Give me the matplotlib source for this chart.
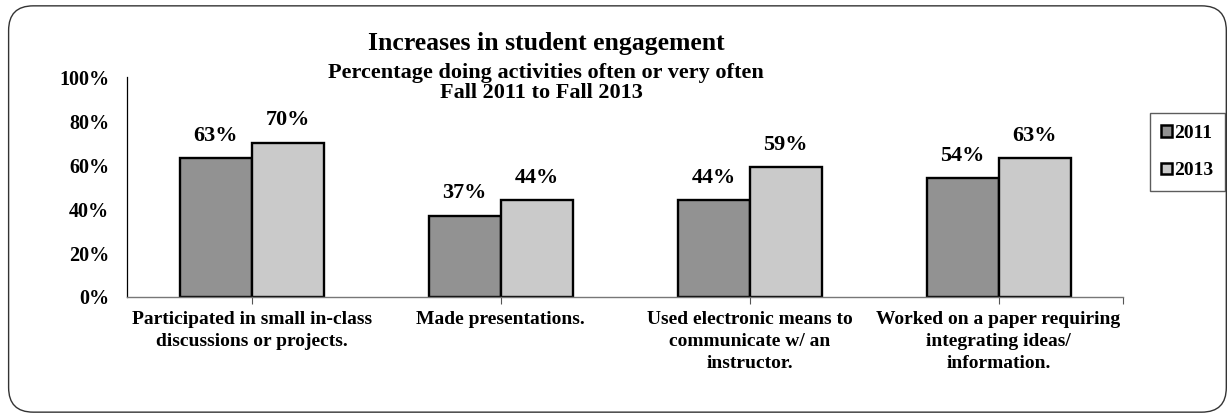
import numpy as np
import matplotlib.pyplot as plt
from matplotlib.patches import FancyBboxPatch, Patch

categories = ["Participated in small in-class\ndiscussions or projects.",
              "Made presentations.",
              "Used electronic means to\ncommunicate w/ an\ninstructor.",
              "Worked on a paper requiring\nintegrating ideas/\ninformation."]
years = ["2011", "2013"]
vals_2011 = [63, 37, 44, 54]
vals_2013 = [70, 44, 59, 63]
yticks = [0, 20, 40, 60, 80, 100]

plt.rcParams['font.family'] = ['Liberation Serif', 'DejaVu Serif']
plt.rcParams['font.weight'] = 'bold'

fig = plt.figure(figsize=(12.3, 4.18), dpi=100)

# rounded frame round the whole chart
frame = FancyBboxPatch((0.007, 0.014), 0.99, 0.972, boxstyle="round,pad=0,rounding_size=0.02",
                       transform=fig.transFigure, facecolor='none', edgecolor='#333333',
                       linewidth=1.0, mutation_aspect=1230 / 418, zorder=-1)
fig.patches.append(frame)

ax = fig.add_axes([0.1033, 0.2895, 0.8098, 0.526])
ax.set_facecolor('none')

x = np.arange(len(categories))
w = 0.289
ax.bar(x - w / 2, vals_2011, w, color='#929292', edgecolor='black', linewidth=1.7, label=years[0])
ax.bar(x + w / 2, vals_2013, w, color='#cacaca', edgecolor='black', linewidth=1.7, label=years[1])

# value labels above the bars
for xi, v in zip(x - w / 2, vals_2011):
    ax.text(xi, v + 8, f"{v}%", ha='center', va='baseline', fontsize=16, fontweight='bold')
for xi, v in zip(x + w / 2, vals_2013):
    ax.text(xi, v + 8, f"{v}%", ha='center', va='baseline', fontsize=16, fontweight='bold')

ax.set_xlim(-0.5, 3.5)
ax.set_ylim(0, 100)
ax.set_yticks(yticks)
ax.set_yticklabels([f"{t}%" for t in yticks], fontsize=14.5, fontweight='bold')
ax.tick_params(axis='y', length=0, pad=13)

ax.set_xticks(list(x) + [3.5])
ax.set_xticklabels(categories + [""], fontsize=14, fontweight='bold', linespacing=1.38)
ax.tick_params(axis='x', length=5, width=0.8, color='#555555', pad=5)

for s in ['top', 'right']:
    ax.spines[s].set_visible(False)
ax.spines['left'].set_color('black')
ax.spines['left'].set_linewidth(0.9)
ax.spines['bottom'].set_color('#777777')
ax.spines['bottom'].set_linewidth(1.0)

fig.text(0.444, 0.880, "Increases in student engagement", ha='center', va='baseline', fontsize=18.5, fontweight='bold')
fig.text(0.444, 0.813, "Percentage doing activities often or very often", ha='center', va='baseline', fontsize=16, fontweight='bold')
fig.text(0.440, 0.766, "Fall 2011 to Fall 2013", ha='center', va='baseline', fontsize=16, fontweight='bold')

handles = [Patch(facecolor='#929292', edgecolor='black', linewidth=1.8),
           Patch(facecolor='#cacaca', edgecolor='black', linewidth=1.8)]
leg = fig.legend(handles, years, loc='center', bbox_to_anchor=(0.9654, 0.636),
                 fontsize=14, frameon=True, fancybox=False, handlelength=0.55, handleheight=0.55,
                 handletextpad=0.12, labelspacing=1.05, borderpad=0.6, borderaxespad=0)
leg.get_frame().set_edgecolor('#333333')
leg.get_frame().set_linewidth(1.0)
for t in leg.get_texts():
    t.set_fontweight('bold')

fig.savefig('out.png', dpi=100)
